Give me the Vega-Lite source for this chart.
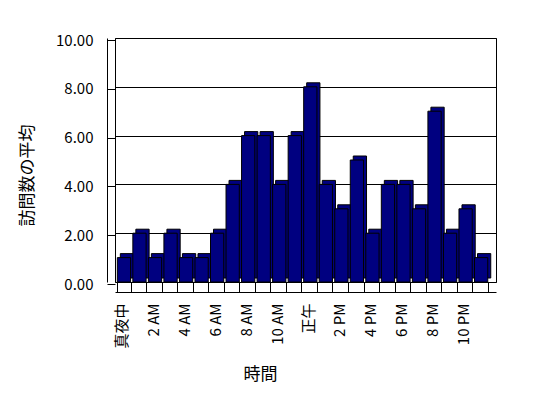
{
  "$schema": "https://vega.github.io/schema/vega-lite/v6.json",
  "width": 381,
  "height": 244,
  "autosize": {"type": "none"},
  "padding": {"left": 115, "top": 38, "right": 52, "bottom": 116},
  "background": "white",
  "config": {
    "view": {"stroke": "black", "strokeWidth": 1},
    "font": "Noto Sans CJK JP",
    "axis": {"labelColor": "black", "titleColor": "black", "labelFont": "Noto Sans CJK JP", "titleFont": "Noto Sans CJK JP", "titleFontWeight": "normal"}
  },
  "data": {"values": [
    {"hour": 0, "avg": 1}, {"hour": 1, "avg": 2}, {"hour": 2, "avg": 1}, {"hour": 3, "avg": 2},
    {"hour": 4, "avg": 1}, {"hour": 5, "avg": 1}, {"hour": 6, "avg": 2}, {"hour": 7, "avg": 4},
    {"hour": 8, "avg": 6}, {"hour": 9, "avg": 6}, {"hour": 10, "avg": 4}, {"hour": 11, "avg": 6},
    {"hour": 12, "avg": 8}, {"hour": 13, "avg": 4}, {"hour": 14, "avg": 3}, {"hour": 15, "avg": 5},
    {"hour": 16, "avg": 2}, {"hour": 17, "avg": 4}, {"hour": 18, "avg": 4}, {"hour": 19, "avg": 3},
    {"hour": 20, "avg": 7}, {"hour": 21, "avg": 2}, {"hour": 22, "avg": 3}, {"hour": 23, "avg": 1}
  ]},
  "encoding": {
    "x": {
      "field": "hour", "type": "ordinal",
      "scale": {"paddingInner": 0.146, "paddingOuter": 0.34, "align": 0.22},
      "axis": {
        "title": "時間", "titleFontSize": 17, "titlePadding": 18, "titleX": 145,
        "offset": 10, "tickSize": -10, "tickColor": "black", "domainColor": "black",
        "tickBand": "extent",
        "labelAngle": -90, "labelFontSize": 15, "labelPadding": 21, "labelOffset": -2,
        "labelExpr": "datum.value % 2 == 0 ? ['真夜中','2 AM','4 AM','6 AM','8 AM','10 AM','正午','2 PM','4 PM','6 PM','8 PM','10 PM'][datum.value / 2] : ''"
      }
    }
  },
  "layer": [
    {
      "mark": {"type": "bar", "color": "#000080", "stroke": "black", "strokeWidth": 1, "xOffset": 3, "yOffset": -4},
      "encoding": {
        "y": {"field": "avg", "type": "quantitative", "scale": {"domain": [0, 10]},
          "axis": {"orient": "left", "grid": true, "gridColor": "black", "gridOpacity": 1, "labels": false, "ticks": false, "domain": false, "title": null, "values": [0, 2, 4, 6, 8, 10]}}
      }
    },
    {
      "mark": {"type": "bar", "color": "#000080", "stroke": "black", "strokeWidth": 1},
      "encoding": {
        "y": {"field": "avg", "type": "quantitative", "scale": {"domain": [0, 10]},
          "axis": {"orient": "left", "grid": false, "title": "訪問数の平均", "titleFontSize": 17, "values": [0, 2, 4, 6, 8, 10], "format": ".2f",
            "offset": 8, "tickSize": -8, "tickOffset": 2, "tickColor": "black", "domainColor": "black",
            "labelFontSize": 15, "labelPadding": 22, "titlePadding": 19, "titleY": 137}}
      }
    }
  ],
  "resolve": {"axis": {"y": "independent"}}
}
